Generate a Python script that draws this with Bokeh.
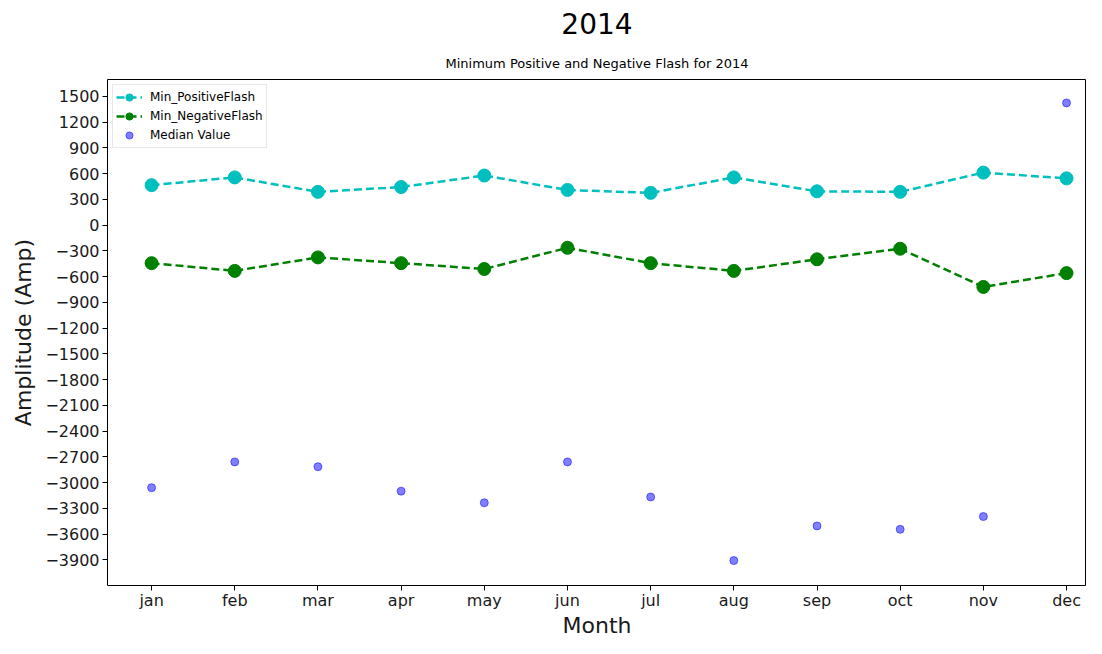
from bokeh.plotting import figure
from bokeh.models import FixedTicker, Title, Legend, LegendItem, Range1d
from bokeh.embed import file_html
from bokeh.resources import INLINE

months = ["jan", "feb", "mar", "apr", "may", "jun", "jul", "aug", "sep", "oct", "nov", "dec"]
min_positive = [467, 557, 389, 445, 579, 411, 377, 557, 395, 389, 613, 546]
min_negative = [-442, -532, -375, -442, -510, -263, -442, -532, -397, -274, -719, -558]
median_value = [-3058, -2758, -2814, -3099, -3234, -2758, -3167, -3908, -3504, -3544, -3395, 1425]
y_ticks = list(range(-3900, 1501, 300))

xs = list(range(len(months)))
FONT = "DejaVu Sans"

p = figure(width=1086, height=640, output_backend="svg", toolbar_location=None,
           x_range=Range1d(-0.53, 11.24), y_range=Range1d(-4198, 1698),
           min_border_left=107, min_border_right=0, min_border_top=70, min_border_bottom=40)

p.title.text = "2014"
p.title.text_font = FONT
p.title.text_font_size = "28px"
p.title.text_font_style = "normal"
p.title.text_color = "black"
p.title.align = "center"
p.title.standoff = 21
p.add_layout(Title(text="Minimum Positive and Negative Flash for 2014", text_font=FONT,
                   text_font_size="13px", text_font_style="normal", text_color="black",
                   align="center", standoff=18), "above")

p.grid.visible = False
p.outline_line_color = "black"
p.outline_line_width = 1
p.background_fill_color = "white"

for ax in (p.xaxis[0], p.yaxis[0]):
    ax.axis_line_color = None
    ax.major_tick_out = 5
    ax.major_tick_in = 0
    ax.minor_tick_line_color = None
    ax.major_label_text_font = FONT
    ax.major_label_text_font_size = "16px"
    ax.major_label_text_color = "#1a1a1a"
    ax.axis_label_text_font = FONT
    ax.axis_label_text_font_size = "22px"
    ax.axis_label_text_font_style = "normal"
    ax.axis_label_text_color = "#1a1a1a"

p.xaxis.ticker = FixedTicker(ticks=xs)
p.xaxis.major_label_overrides = {i: m for i, m in enumerate(months)}
p.xaxis.axis_label = "Month"
p.xaxis.major_label_standoff = 0
p.xaxis.axis_label_standoff = 0
p.yaxis.ticker = FixedTicker(ticks=y_ticks)
p.yaxis.major_label_overrides = {t: (str(t).replace("-", "\u2212")) for t in y_ticks}
p.yaxis.axis_label = "Amplitude (Amp)"
p.yaxis.major_label_standoff = 3
p.yaxis.axis_label_standoff = 6

cyan = "#00BFBF"
green = "#008000"

l1 = p.line(xs, min_positive, line_color=cyan, line_width=2.5, line_dash="8 4")
c1 = p.scatter(xs, min_positive, size=13, fill_color=cyan, line_color=cyan)
l2 = p.line(xs, min_negative, line_color=green, line_width=2.5, line_dash="8 4")
c2 = p.scatter(xs, min_negative, size=13, fill_color=green, line_color=green)
c3 = p.scatter(xs, median_value, size=8, fill_color="blue", line_color="blue", fill_alpha=0.5, line_alpha=0.5)

legend = Legend(items=[
    LegendItem(label="Min_PositiveFlash", renderers=[l1, c1]),
    LegendItem(label="Min_NegativeFlash", renderers=[l2, c2]),
    LegendItem(label="Median Value", renderers=[c3]),
], location="top_left")
legend.label_text_font = FONT
legend.label_text_font_size = "12px"
legend.label_text_color = "black"
legend.label_height = 18
legend.glyph_height = 18
legend.glyph_width = 26
legend.label_standoff = 8
legend.spacing = 1
legend.padding = 3
legend.margin = 5
legend.border_line_color = "#d0d0d0"
legend.border_line_width = 1
legend.background_fill_alpha = 0.8
p.add_layout(legend)

open("out.html", "w").write(file_html(p, INLINE))
